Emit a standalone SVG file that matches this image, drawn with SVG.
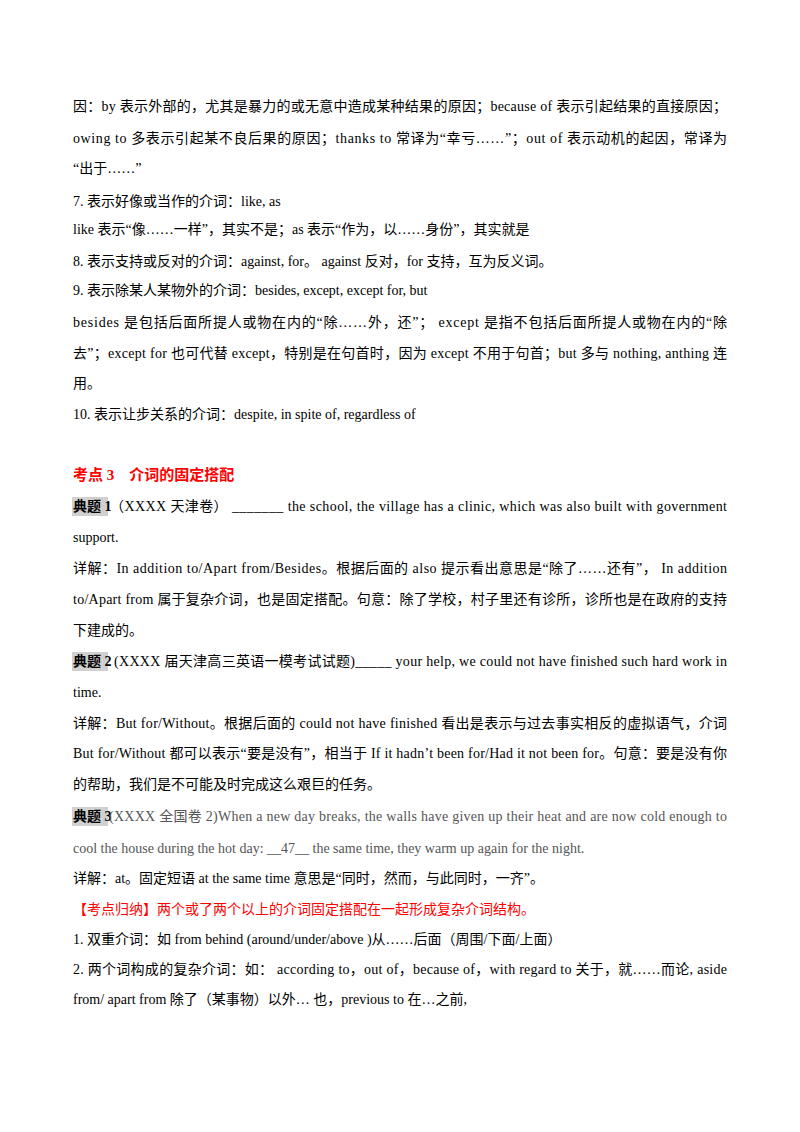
<svg xmlns="http://www.w3.org/2000/svg" width="800" height="1132" viewBox="0 0 800 1132">
<style>
text{font-family:"Liberation Serif","Noto Sans CJK SC",serif;font-size:14px;fill:#000}
.r{fill:#ff0000}
.b{font-weight:bold}
.g{fill:#555}
.hl{fill:#d0d0d0}
</style>
<rect width="800" height="1132" fill="#fff"/>
<g id="body">
<text x="73" y="111" textLength="654" lengthAdjust="spacing">因：by 表示外部的，尤其是暴力的或无意中造成某种结果的原因；because of  表示引起结果的直接原因；</text>
<text x="73" y="143" textLength="654" lengthAdjust="spacing">owing to 多表示引起某不良后果的原因；thanks to 常译为“幸亏……”；out of 表示动机的起因，常译为</text>
<text x="73" y="173">“出于……”</text>
<text x="73" y="206">7.  表示好像或当作的介词：like, as</text>
<text x="73" y="234">like 表示“像……一样”，其实不是；as 表示“作为，以……身份”，其实就是</text>
<text x="73" y="266">8.  表示支持或反对的介词：against, for。 against 反对，for 支持，互为反义词。</text>
<text x="73" y="295">9.  表示除某人某物外的介词：besides, except, except for, but</text>
<text x="73" y="327" textLength="654" lengthAdjust="spacing">besides 是包括后面所提人或物在内的“除……外，还”；  except 是指不包括后面所提人或物在内的“除</text>
<text x="73" y="358" textLength="654" lengthAdjust="spacing">去”；except for 也可代替 except，特别是在句首时，因为 except 不用于句首；but 多与 nothing, anthing 连</text>
<text x="73" y="388">用。</text>
<text x="73" y="419">10.  表示让步关系的介词：despite, in spite of, regardless of</text>
</g>
<g id="section3">
<text x="73" y="480" class="r b" style="font-size:15px">考点 3　介词的固定搭配</text>
<rect class="hl" x="72" y="497" width="36" height="19"/>
<text x="73" y="511" class="b">典题 1</text>
<text x="110" y="511" textLength="617" lengthAdjust="spacing">（XXXX 天津卷） _______ the school, the village has a clinic, which was also built with government</text>
<text x="73" y="542">support.</text>
<text x="73" y="573" textLength="654" lengthAdjust="spacing">详解：In addition to/Apart from/Besides。根据后面的 also 提示看出意思是“除了……还有”，  In addition</text>
<text x="73" y="604" textLength="654" lengthAdjust="spacing">to/Apart from 属于复杂介词，也是固定搭配。句意：除了学校，村子里还有诊所，诊所也是在政府的支持</text>
<text x="73" y="635">下建成的。</text>
<rect class="hl" x="72" y="652" width="36" height="19"/>
<text x="73" y="666" class="b">典题 2</text>
<text x="114" y="666" textLength="613" lengthAdjust="spacing">(XXXX 届天津高三英语一模考试试题)_____ your help, we could not have finished such hard work in</text>
<text x="73" y="697">time.</text>
<text x="73" y="728" textLength="654" lengthAdjust="spacing">详解：But for/Without。根据后面的 could not have finished 看出是表示与过去事实相反的虚拟语气，介词</text>
<text x="73" y="758" textLength="654" lengthAdjust="spacing">But for/Without 都可以表示“要是没有”，相当于 If it hadn’t been for/Had it not been for。句意：要是没有你</text>
<text x="73" y="789">的帮助，我们是不可能及时完成这么艰巨的任务。</text>
<rect class="hl" x="72" y="807" width="36" height="19"/>
<text x="73" y="821" class="b">典题 3</text>
<text x="109" y="821" class="g" textLength="618" lengthAdjust="spacing">(XXXX 全国卷 2)When a new day breaks, the walls have given up their heat and are now cold enough to</text>
<text x="73" y="853" class="g">cool the house during the hot day: __47__ the same time, they warm up again for the night.</text>
<text x="73" y="883">详解：at。固定短语 at the same time 意思是“同时，然而，与此同时，一齐”。</text>
<text x="73" y="914" class="r">【考点归纳】两个或了两个以上的介词固定搭配在一起形成复杂介词结构。</text>
<text x="73" y="944">1.  双重介词：如 from behind (around/under/above )从……后面（周围/下面/上面）</text>
<text x="73" y="974" textLength="654" lengthAdjust="spacing">2.  两个词构成的复杂介词：如： according to，out of，because of，with regard to 关于，就……而论, aside</text>
<text x="73" y="1004">from/ apart from  除了（某事物）以外…  也，previous to  在…之前,</text>
</g>
</svg>
